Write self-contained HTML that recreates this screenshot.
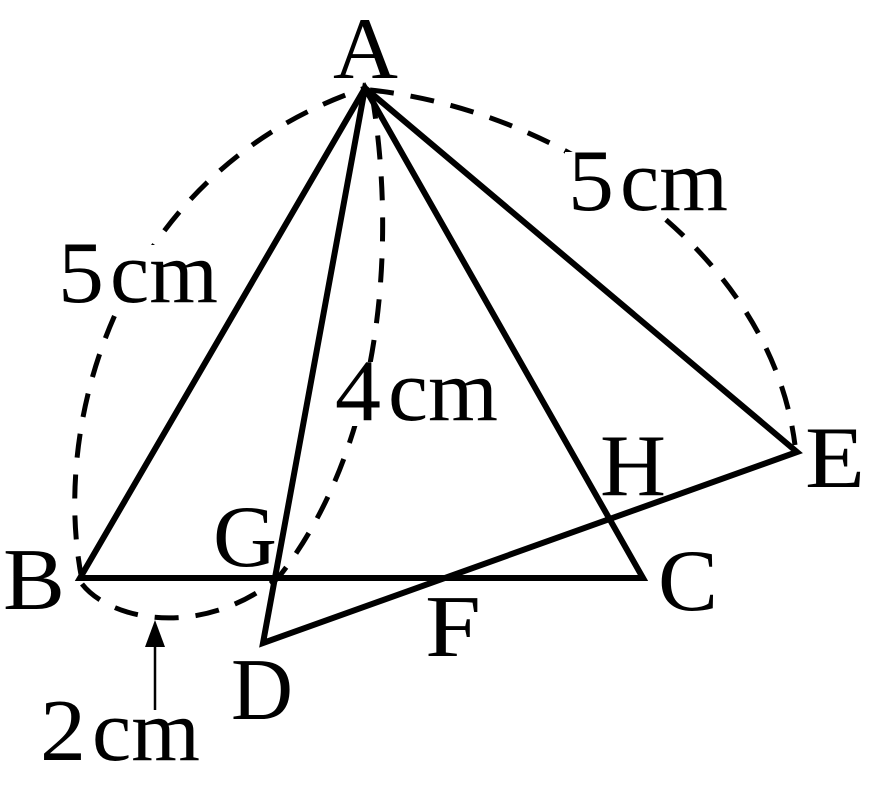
<!DOCTYPE html>
<html><head><style>html,body{margin:0;padding:0;background:#fff}</style></head>
<body>
<svg width="869" height="789" viewBox="0 0 869 789" xmlns="http://www.w3.org/2000/svg">
<g fill="none" stroke="#000" stroke-width="5" stroke-dasharray="24,17" stroke-linecap="butt">
<path d="M82,580 C50,420 120,170 365,88"/>
<path d="M370,90 C560,110 770,250 795,445"/>
<path d="M372,95 C398,250 380,450 278,578"/>
<path d="M82,584 C110,620 200,640 278,578"/>
</g>
<g fill="#fff">
<rect x="55" y="245" width="166" height="64"/>
<rect x="565" y="152" width="166" height="64"/>
<rect x="332" y="362" width="168" height="64"/>
</g>
<g fill="none" stroke="#000" stroke-width="6" stroke-linejoin="miter" stroke-linecap="round">
<path d="M80,578 L365,88 L643,578 Z"/>
<path d="M365,88 L263,643 L797,452 Z"/>
</g>
<line x1="155" y1="710" x2="155" y2="630" stroke="#000" stroke-width="2.5"/>
<path d="M155,620 L145,647 L165,647 Z" fill="#000"/>
<g font-family="'Liberation Serif',serif" font-size="88" fill="#000">
<text x="333" y="78" textLength="65" lengthAdjust="spacingAndGlyphs">A</text>
<text x="3" y="609" textLength="62" lengthAdjust="spacingAndGlyphs">B</text>
<text x="213" y="566" textLength="64" lengthAdjust="spacingAndGlyphs">G</text>
<text x="658" y="610" textLength="60" lengthAdjust="spacingAndGlyphs">C</text>
<text x="425" y="656" textLength="56" lengthAdjust="spacingAndGlyphs">F</text>
<text x="231" y="719" textLength="62" lengthAdjust="spacingAndGlyphs">D</text>
<text x="600" y="495" textLength="66" lengthAdjust="spacingAndGlyphs">H</text>
<text x="805" y="487" textLength="60" lengthAdjust="spacingAndGlyphs">E</text>
<text x="58" y="302" textLength="46" lengthAdjust="spacingAndGlyphs">5</text><text x="110" y="302" textLength="108" lengthAdjust="spacingAndGlyphs">cm</text>
<text x="568" y="210" textLength="46" lengthAdjust="spacingAndGlyphs">5</text><text x="620" y="210" textLength="108" lengthAdjust="spacingAndGlyphs">cm</text>
<text x="335" y="420" textLength="46" lengthAdjust="spacingAndGlyphs">4</text><text x="388" y="420" textLength="110" lengthAdjust="spacingAndGlyphs">cm</text>
<text x="40" y="760" textLength="46" lengthAdjust="spacingAndGlyphs">2</text><text x="92" y="760" textLength="108" lengthAdjust="spacingAndGlyphs">cm</text>
</g>
</svg>
</body></html>
